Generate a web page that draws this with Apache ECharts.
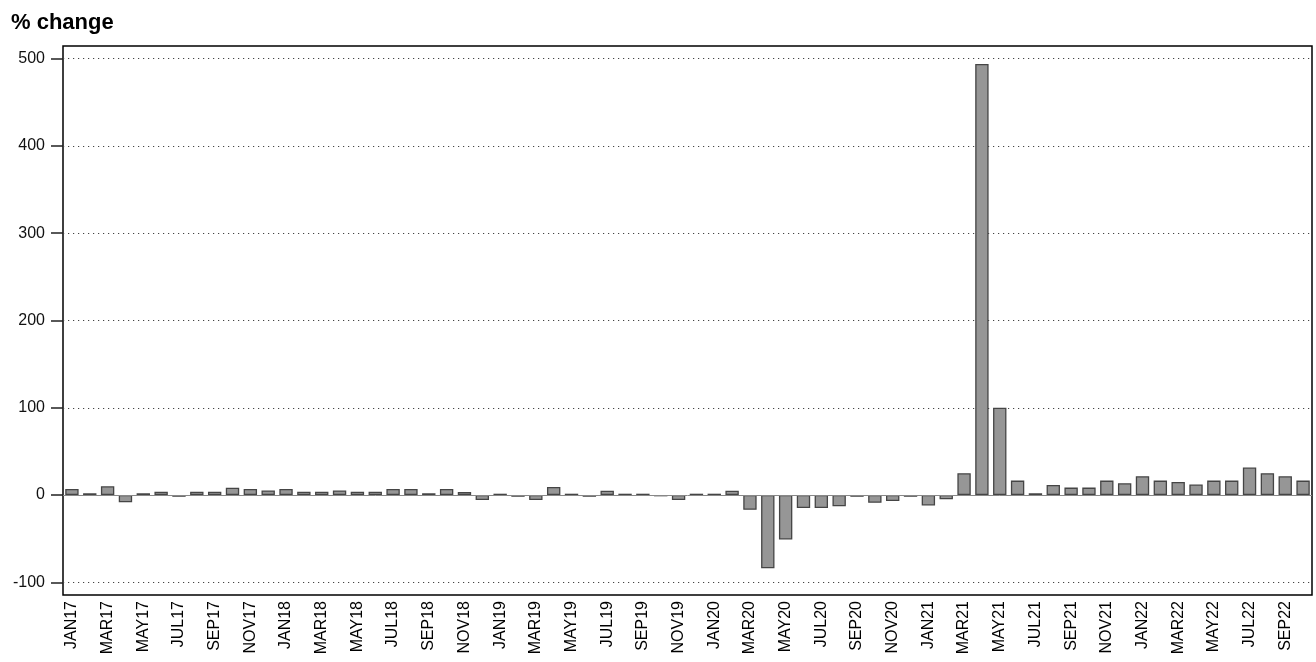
<!DOCTYPE html>
<html>
<head>
<meta charset="utf-8">
<script src="https://cdn.jsdelivr.net/npm/echarts@6/dist/echarts.min.js"></script>
<style>
html,body{margin:0;padding:0;background:#fff;}
#chart{width:1316px;height:662px;}
</style>
</head>
<body>
<div id="chart"></div>
<script>
var months = ['JAN','FEB','MAR','APR','MAY','JUN','JUL','AUG','SEP','OCT','NOV','DEC'];
var categories = [];
for (var y = 17; y <= 22; y++) {
  for (var m = 0; m < 12; m++) {
    if (y === 22 && m > 9) break;
    categories.push(months[m] + y);
  }
}
var values2017 = [7, 2, 10, -8.4, 2, 3.8, -2, 3.8, 3.8, 8.4, 7, 5.3];
var values2018 = [7, 3.8, 3.8, 5.3, 3.8, 3.8, 7, 7, 2, 7, 3.4, -5.7];
var values2019 = [1.5, -2, -5.7, 9.2, 1.5, -2, 5, 1.5, 1.5, -1.5, -5.7, 1.5];
var values2020 = [1.5, 5, -17, -84, -51, -15, -15, -13, -2, -9, -7, -2];
var values2021 = [-12, -5, 25, 494, 100, 16.5, 2, 11.5, 8.5, 8.5, 16.5, 13.5];
var values2022 = [21.5, 16.5, 15, 12, 16.5, 16.5, 31.5, 25, 21.5, 16.5];
var values = [].concat(values2017, values2018, values2019, values2020, values2021, values2022);
var yTickLabels = [-100, 0, 100, 200, 300, 400, 500];
var titleText = '% change';

var chart = echarts.init(document.getElementById('chart'));
chart.setOption({
  animation: false,
  backgroundColor: '#fff',
  title: {
    text: titleText,
    left: 6,
    top: 7,
    textStyle: { fontFamily: 'Liberation Sans, Arial, sans-serif', fontSize: 22, fontWeight: 'bold', color: '#000' }
  },
  grid: {
    left: 63, right: 4, top: 46, bottom: 67,
    show: true, borderColor: '#000', borderWidth: 1.5, backgroundColor: '#fff'
  },
  xAxis: {
    type: 'category',
    data: categories,
    axisLine: { show: false },
    axisTick: { show: false },
    splitLine: { show: false },
    axisLabel: {
      rotate: 90,
      interval: 1,
      margin: 6,
      fontSize: 16,
      color: '#000',
      fontFamily: 'Liberation Sans, Arial, sans-serif'
    }
  },
  yAxis: {
    type: 'value',
    min: -114.6,
    max: 514.6,
    axisLine: { show: false },
    axisTick: { show: true, length: 12, customValues: yTickLabels, lineStyle: { color: '#222', width: 1.5 } },
    axisLabel: {
      customValues: yTickLabels,
      margin: 18,
      fontSize: 16,
      color: '#111',
      fontFamily: 'Liberation Sans, Arial, sans-serif'
    },
    splitLine: {
      show: true,
      lineStyle: { type: [1.2, 3.8], color: '#444', width: 1.2 }
    }
  },
  series: [{
    type: 'bar',
    data: values,
    barCategoryGap: '25%',
    itemStyle: { color: '#969696', borderColor: '#454545', borderWidth: 1.3 },
    markLine: {
      silent: true,
      symbol: 'none',
      label: { show: false },
      lineStyle: { color: '#888', type: 'solid', width: 1 },
      data: [{ yAxis: 0 }]
    }
  }]
});
</script>
</body>
</html>
